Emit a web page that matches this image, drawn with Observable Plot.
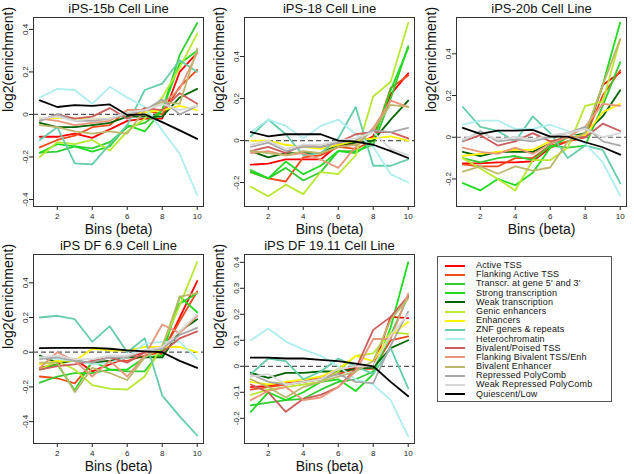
<!DOCTYPE html>
<html>
<head>
<meta charset="utf-8">
<script src="https://cdn.jsdelivr.net/npm/d3@7"></script>
<script src="https://cdn.jsdelivr.net/npm/@observablehq/plot@0.6"></script>
<style>
  html, body { margin: 0; padding: 0; background: #fff; }
  #root { position: relative; width: 634px; height: 474px; overflow: hidden; font-family: "Liberation Sans", Arial, sans-serif; }
  .panel { position: absolute; }
  #legend { position: absolute; left: 437px; top: 256px; width: 175px; height: 146px; border: 1px solid #555; box-sizing: border-box; padding-top: 4px; }
  .item { display: flex; align-items: center; height: 9.2px; font-size: 9px; letter-spacing: 0.15px; color: #111; line-height: 9.2px; }
  .swatch { width: 20px; height: 0; border-top: 2px solid; margin-left: 7px; margin-right: 11px; }
</style>
</head>
<body>
<div id="root"></div>
<script>
const bins = [1, 2, 3, 4, 5, 6, 7, 8, 9, 10];
const states = [
  "Active TSS", "Flanking Active TSS", "Transcr. at gene 5' and 3'", "Strong transcription",
  "Weak transcription", "Genic enhancers", "Enhancers", "ZNF genes & repeats",
  "Heterochromatin", "Bivalent/Poised TSS", "Flanking Bivalent TSS/Enh", "Bivalent Enhancer",
  "Repressed PolyComb", "Weak Repressed PolyComb", "Quiescent/Low"
];
const stateColors = [
  "#FF0000", "#F04A1A", "#32CD32", "#1EDC1E",
  "#006400", "#B8E830", "#FFF200", "#66CDAA",
  "#AFEEEE", "#CD5C5C", "#E9967A", "#BDB76B",
  "#A8A8A8", "#D8D8D8", "#000000"
];
const panelTitles = ["iPS-15b Cell Line", "iPS-18 Cell Line", "iPS-20b Cell Line", "iPS DF 6.9 Cell Line", "iPS DF 19.11 Cell Line"];

const ips15b = [
  [-0.105,-0.105,-0.09,-0.11,-0.07,-0.03,-0.02,-0.02,0.20,0.29],
  [-0.155,-0.12,-0.10,-0.06,-0.05,0.02,0.02,0.00,0.13,0.21],
  [-0.18,-0.175,-0.15,-0.16,-0.13,-0.06,-0.04,0.02,0.28,0.43],
  [-0.18,-0.14,-0.15,-0.175,-0.15,-0.05,-0.08,0.02,0.24,0.30],
  [-0.04,-0.06,-0.06,-0.05,-0.04,-0.01,-0.01,-0.01,0.08,0.12],
  [-0.20,-0.13,-0.14,-0.12,-0.17,-0.08,-0.02,0.08,0.22,0.38],
  [-0.02,-0.015,-0.02,-0.02,-0.02,0.00,0.01,0.02,0.04,0.02],
  [-0.12,-0.06,-0.23,-0.235,-0.14,-0.05,0.115,0.145,0.255,0.20],
  [0.08,0.12,0.115,0.05,0.13,0.08,0.035,-0.075,-0.185,-0.38],
  [-0.03,0.00,-0.02,-0.01,0.03,-0.02,0.03,0.02,0.10,0.05],
  [-0.02,-0.03,-0.05,-0.04,-0.03,0.02,0.02,0.05,0.12,0.29],
  [-0.05,-0.06,-0.08,-0.09,-0.08,-0.09,0.02,0.06,0.05,0.31],
  [-0.03,0.00,-0.03,-0.03,-0.02,0.00,0.02,0.07,0.00,0.04],
  [-0.02,-0.01,-0.03,-0.02,-0.02,0.01,0.02,0.05,0.02,0.04],
  [0.066,0.035,0.044,0.04,0.047,-0.003,0.00,-0.036,-0.075,-0.115]
];
const ips18 = [
  [-0.115,-0.11,-0.09,-0.09,-0.09,-0.02,-0.02,0.02,0.22,0.32],
  [-0.15,-0.18,-0.195,-0.08,-0.07,-0.03,-0.04,0.00,0.25,0.31],
  [-0.14,-0.18,-0.13,-0.19,-0.15,-0.05,-0.05,-0.02,0.20,0.45],
  [-0.15,-0.18,-0.10,-0.16,-0.12,-0.05,-0.06,0.00,0.24,0.44],
  [-0.05,-0.08,-0.06,-0.06,-0.06,-0.02,-0.01,0.00,0.10,0.19],
  [-0.22,-0.265,-0.21,-0.255,-0.15,-0.16,-0.07,0.21,0.28,0.56],
  [0.00,0.00,-0.02,-0.03,-0.04,-0.02,0.00,0.01,0.02,0.00],
  [0.02,0.10,0.03,-0.07,-0.06,0.01,0.16,-0.12,-0.12,-0.09],
  [0.04,0.10,0.07,0.01,0.07,0.10,0.03,-0.03,-0.16,-0.20],
  [-0.05,-0.03,-0.06,-0.02,-0.03,-0.01,0.03,0.04,0.04,0.01],
  [-0.06,-0.05,-0.07,-0.06,-0.09,-0.13,-0.03,0.06,0.19,0.16],
  [-0.05,-0.06,-0.07,-0.05,-0.06,-0.03,-0.02,0.05,0.17,0.16],
  [-0.03,-0.01,-0.05,-0.03,-0.03,-0.01,0.00,0.05,0.04,0.06],
  [-0.02,0.00,-0.04,-0.02,-0.02,0.00,0.01,0.04,-0.04,-0.07],
  [0.04,0.02,0.03,0.03,0.03,0.00,-0.005,-0.02,-0.05,-0.083]
];
const ips20b = [
  [-0.125,-0.125,-0.12,-0.12,-0.115,-0.05,-0.02,0.00,0.25,0.31],
  [-0.13,-0.14,-0.14,-0.10,-0.10,-0.04,-0.02,0.00,0.20,0.32],
  [-0.10,-0.12,-0.10,-0.09,-0.11,-0.04,-0.05,-0.04,0.15,0.36],
  [-0.22,-0.255,-0.20,-0.23,-0.17,-0.05,0.00,0.01,0.25,0.55],
  [-0.07,-0.09,-0.07,-0.07,-0.07,-0.03,0.00,0.02,0.10,0.225],
  [-0.10,-0.15,-0.20,-0.255,-0.11,-0.11,-0.05,0.15,0.17,0.47],
  [-0.09,-0.08,-0.07,-0.06,-0.06,-0.02,0.00,0.01,0.12,0.16],
  [0.145,0.05,0.03,-0.02,0.10,0.02,-0.10,-0.04,-0.06,-0.22],
  [0.06,0.08,0.08,0.04,0.04,0.06,0.03,-0.03,-0.12,-0.28],
  [-0.02,0.01,-0.04,-0.02,0.02,-0.02,0.00,0.00,0.065,0.03],
  [-0.05,-0.07,-0.08,-0.05,-0.08,-0.03,0.00,0.05,0.16,0.15],
  [-0.165,-0.14,-0.175,-0.14,-0.16,-0.145,-0.02,0.02,0.25,0.47],
  [-0.02,0.03,-0.02,-0.01,-0.02,0.00,0.02,0.05,-0.02,-0.04],
  [-0.01,0.02,-0.01,0.00,-0.01,0.01,0.02,0.04,0.00,0.02],
  [0.045,0.016,0.032,0.032,0.035,0.003,0.003,-0.024,-0.048,-0.083]
];
const ipsDF69 = [
  [-0.09,-0.07,-0.04,-0.11,-0.07,-0.03,0.00,-0.01,0.20,0.41],
  [-0.14,-0.15,-0.18,-0.06,-0.05,-0.05,-0.02,0.00,0.18,0.35],
  [-0.175,-0.14,-0.12,-0.12,-0.10,-0.11,-0.11,0.02,0.28,0.34],
  [-0.10,-0.07,-0.22,-0.05,-0.10,-0.10,-0.03,-0.02,0.32,0.23],
  [-0.02,-0.06,-0.05,-0.06,-0.05,-0.03,-0.03,-0.03,0.12,0.19],
  [-0.10,-0.05,-0.10,-0.19,-0.21,-0.215,-0.14,0.04,0.27,0.52],
  [-0.07,-0.05,-0.05,0.02,0.01,0.01,0.03,0.03,0.03,0.00],
  [0.20,0.21,0.19,0.06,0.15,0.00,0.08,-0.25,-0.37,-0.48],
  [-0.03,-0.04,-0.05,-0.07,-0.06,-0.03,0.05,0.06,0.06,-0.04],
  [-0.10,-0.08,-0.07,-0.05,-0.03,-0.06,0.00,0.00,0.08,0.12],
  [-0.09,0.00,-0.05,-0.14,-0.05,-0.14,-0.02,0.16,0.11,0.21],
  [-0.06,-0.06,-0.23,-0.09,-0.12,-0.16,-0.03,0.03,0.32,0.34],
  [-0.04,-0.03,-0.05,-0.06,-0.03,-0.03,0.01,0.02,0.10,0.14],
  [-0.03,-0.02,-0.04,-0.04,-0.02,-0.02,0.01,0.03,0.12,0.22],
  [0.023,0.025,0.025,0.025,0.02,0.01,0.005,0.00,-0.05,-0.09]
];
const ipsDF1911 = [
  [-0.08,-0.075,-0.065,-0.06,-0.05,-0.02,-0.005,-0.005,0.19,0.185],
  [-0.09,-0.08,-0.07,-0.06,-0.04,-0.03,-0.01,-0.01,0.10,0.115],
  [-0.15,-0.14,-0.13,-0.125,-0.09,-0.06,-0.05,-0.02,0.12,0.27],
  [-0.175,-0.10,-0.13,-0.10,-0.06,-0.05,-0.095,-0.03,0.15,0.40],
  [-0.025,-0.045,-0.025,-0.025,-0.02,-0.02,-0.01,-0.005,0.07,0.10],
  [-0.11,-0.09,-0.08,-0.07,-0.06,-0.02,0.04,0.05,0.13,0.125],
  [-0.06,-0.07,-0.06,-0.05,-0.04,-0.01,0.04,0.02,0.12,0.17],
  [-0.03,0.03,0.02,-0.05,-0.02,0.03,0.00,-0.03,0.07,-0.085],
  [0.10,0.145,0.095,0.065,0.04,0.00,-0.05,-0.07,-0.13,-0.27],
  [-0.07,-0.10,-0.175,-0.125,-0.11,-0.08,-0.01,0.14,0.19,0.27],
  [-0.13,-0.095,-0.08,-0.13,-0.12,-0.08,-0.02,0.105,0.105,0.28],
  [-0.05,-0.08,-0.12,-0.08,-0.06,-0.04,-0.02,0.02,0.18,0.26],
  [-0.03,-0.06,-0.07,-0.06,-0.05,-0.03,-0.06,-0.065,0.08,0.21],
  [-0.04,-0.03,-0.07,-0.06,-0.05,-0.01,0.00,0.00,0.12,0.20],
  [0.033,0.033,0.03,0.03,0.025,0.02,0.01,0.00,-0.06,-0.115]
];

const panelData = [ips15b, ips18, ips20b, ipsDF69, ipsDF1911];
const yDomains = [[-0.433, 0.456], [-0.314, 0.586], [-0.332, 0.574], [-0.526, 0.563], [-0.297, 0.43]];
const yTicks = [[-0.4,-0.2,0,0.2,0.4], [-0.2,0,0.2,0.4], [-0.2,0,0.2,0.4], [-0.4,-0.2,0,0.2,0.4], [-0.2,-0.1,0,0.1,0.2,0.3,0.4]];
const xTicks = [2, 4, 6, 8, 10];
const panelPos = [[0, 0], [211, 0], [423, 0], [0, 237], [211, 237]];

const root = document.getElementById("root");
const font = "'Liberation Sans', Arial, Helvetica, sans-serif";

panelData.forEach((vals, p) => {
  const rows = [];
  vals.forEach((arr, i) => arr.forEach((v, j) => rows.push({state: states[i], bin: bins[j], value: v})));
  const chart = Plot.plot({
    width: 212,
    height: 237,
    marginLeft: 33,
    marginRight: 9,
    marginTop: 17,
    marginBottom: 31,
    style: {fontFamily: font, fontSize: "8px", background: "transparent", overflow: "visible", color: "#222"},
    x: {domain: [0.64, 10.36], ticks: xTicks, label: null, tickSize: 4, tickPadding: 3, tickFormat: d => String(d)},
    y: {domain: yDomains[p], ticks: yTicks[p], label: null, tickSize: 4, tickRotate: -90, tickPadding: 2, tickFormat: d => String(d)},
    color: {domain: states, range: stateColors},
    marks: [
      Plot.ruleY([0], {stroke: "#555", strokeWidth: 1.2, strokeDasharray: "5,3"}),
      Plot.lineY(rows, {x: "bin", y: "value", z: "state", stroke: "state", strokeWidth: 1.8}),
      Plot.frame({stroke: "#333", strokeWidth: 1}),
      Plot.text([panelTitles[p]], {frameAnchor: "top", lineAnchor: "middle", dy: -9, fontSize: 13, fill: "#111"}),
      Plot.text(["log2(enrichment)"], {frameAnchor: "left", lineAnchor: "middle", dx: -25, rotate: -90, fontSize: 14, fill: "#111"}),
      Plot.text(["Bins (beta)"], {frameAnchor: "bottom", lineAnchor: "middle", dy: 23, fontSize: 14, fill: "#111"})
    ]
  });
  chart.classList.add("panel");
  chart.style.left = panelPos[p][0] + "px";
  chart.style.top = panelPos[p][1] + "px";
  root.appendChild(chart);
});

const legend = document.createElement("div");
legend.id = "legend";
states.forEach((s, i) => {
  const item = document.createElement("div");
  item.className = "item";
  const sw = document.createElement("span");
  sw.className = "swatch";
  sw.style.borderTopColor = stateColors[i];
  const label = document.createElement("span");
  label.textContent = s;
  item.appendChild(sw);
  item.appendChild(label);
  legend.appendChild(item);
});
root.appendChild(legend);
</script>
</body>
</html>
